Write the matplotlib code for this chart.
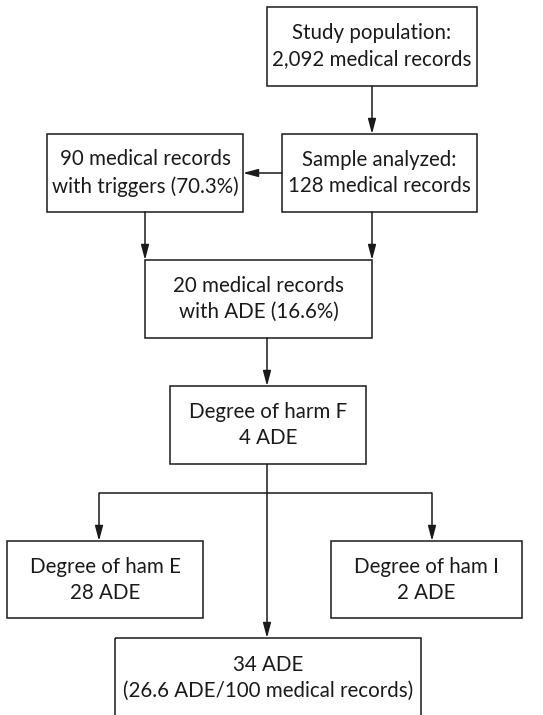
import matplotlib
matplotlib.use("Agg")
import matplotlib.pyplot as plt
from matplotlib.patches import Rectangle, FancyArrowPatch

# Box texts
labels = [
    "Study population:\n2,092 medical records",
    "Sample analyzed:\n128 medical records",
    "90 medical records\nwith triggers (70.3%)",
    "20 medical records\nwith ADE (16.6%)",
    "Degree of harm F\n4 ADE",
    "Degree of ham E\n28 ADE",
    "Degree of ham I\n2 ADE",
    "34 ADE\n(26.6 ADE/100 medical records)",
]
# box geometry (x0, y0, x1, y1) in pixel coords, y downward
boxes = [
    (267, 7, 477, 86),
    (282, 134, 477, 212),
    (47, 134, 243, 212),
    (145, 260, 372, 338),
    (170, 386, 366, 464),
    (7, 541, 203, 618),
    (331, 541, 522, 618),
    (115, 638, 421, 740),
]
text_y = [46, 173, 173, 299, 425, 580, 580, 678]

W, H = 543, 715
fig = plt.figure(figsize=(W / 100, H / 100), dpi=100)
ax = fig.add_axes([0, 0, 1, 1])
ax.set_xlim(0, W)
ax.set_ylim(H, 0)
ax.axis("off")

lw = 1.1
for (x0, y0, x1, y1), lab, ty in zip(boxes, labels, text_y):
    ax.add_patch(Rectangle((x0, y0), x1 - x0, y1 - y0, fill=False,
                           edgecolor="#1a1a1a", linewidth=lw))
    ax.text((x0 + x1) / 2, ty, lab, ha="center", va="center",
            fontsize=14.8, family="Lato", color="#1a1a1a", linespacing=1.4)


def arrow(p0, p1):
    ax.add_patch(FancyArrowPatch(p0, p1, arrowstyle="-|>,head_length=9,head_width=2.4",
                                 color="#1a1a1a", linewidth=lw,
                                 shrinkA=0, shrinkB=0, mutation_scale=1))


def line(xs, ys):
    ax.plot(xs, ys, color="#1a1a1a", linewidth=lw, solid_capstyle="butt")


arrow((372, 86), (372, 134))
arrow((282, 173), (243, 173))
arrow((145, 212), (145, 260))
arrow((372, 212), (372, 260))
arrow((267, 338), (267, 386))
line([267, 267], [464, 493])
line([99, 432], [493, 493])
arrow((99, 493), (99, 541))
arrow((432, 493), (432, 541))
arrow((267, 493), (267, 638))

fig.savefig("out.png", dpi=100, facecolor="white")
